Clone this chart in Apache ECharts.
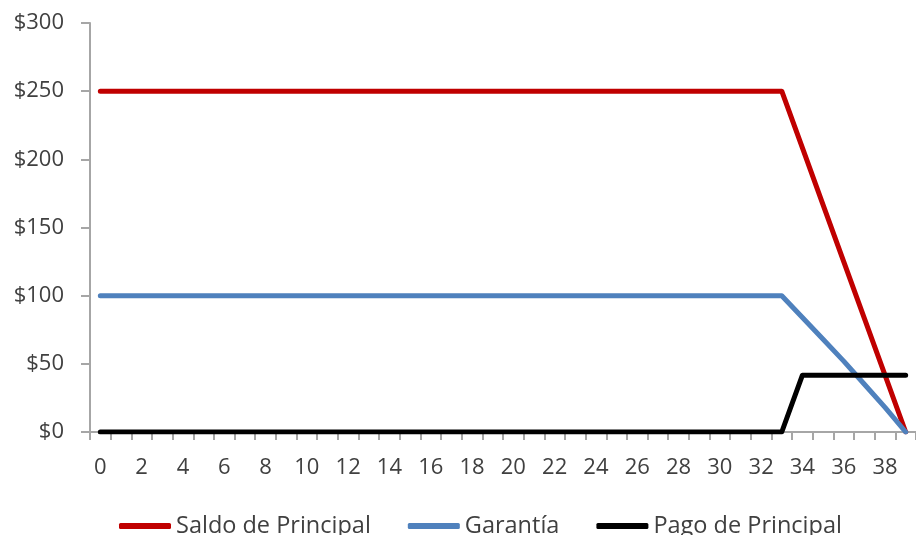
<!DOCTYPE html>
<html>
<head>
<meta charset="utf-8">
<script src="https://cdn.jsdelivr.net/npm/echarts@6/dist/echarts.min.js"></script>
<style>
html,body{margin:0;padding:0;background:#fff;}
#chart{width:916px;height:535px;}
</style>
</head>
<body>
<div id="chart"></div>
<script>
var categories = [];
for (var i = 0; i <= 39; i++) categories.push(String(i));

var saldoPrincipal = [250,250,250,250,250,250,250,250,250,250,250,250,250,250,250,250,250,250,250,250,
                      250,250,250,250,250,250,250,250,250,250,250,250,250,250,208.33,166.67,125,83.33,41.67,0];
var garantia = [100,100,100,100,100,100,100,100,100,100,100,100,100,100,100,100,100,100,100,100,
                100,100,100,100,100,100,100,100,100,100,100,100,100,100,84,68,52,35,18,0];
var pagoPrincipal = [0,0,0,0,0,0,0,0,0,0,0,0,0,0,0,0,0,0,0,0,
                     0,0,0,0,0,0,0,0,0,0,0,0,0,0,41.67,41.67,41.67,41.67,41.67,41.67];

var seriesNames = ['Saldo de Principal', 'Garantía', 'Pago de Principal'];
var seriesColors = ['#C00000', '#4F81BD', '#000000'];

var chart = echarts.init(document.getElementById('chart'));
var font = 'Open Sans';
function mk(name, data, color) {
  return {
    name: name, type: 'line', data: data, symbol: 'none', smooth: false,
    lineStyle: { color: color, width: 5, cap: 'round', join: 'round' },
    itemStyle: { color: color },
    animation: false
  };
}
chart.setOption({
  animation: false,
  grid: { left: 90, top: 23, right: -2, bottom: 103, containLabel: false },
  legend: {
    data: seriesNames,
    left: 114, top: 509,
    icon: 'roundRect',
    itemWidth: 52, itemHeight: 6, itemGap: 37,
    textStyle: { fontFamily: font, fontSize: 23.5, color: '#404040' }
  },
  xAxis: {
    type: 'category', data: categories, boundaryGap: true,
    axisLine: { lineStyle: { color: '#A6A6A6', width: 2 } },
    axisTick: { show: true, interval: 0, length: 8, lineStyle: { color: '#A6A6A6', width: 2 } },
    axisLabel: { interval: 1, margin: 25, fontFamily: font, fontSize: 22, color: '#404040' },
    splitLine: { show: false }
  },
  yAxis: {
    type: 'value', min: 0, max: 300, interval: 50,
    axisLine: { show: true, lineStyle: { color: '#A6A6A6', width: 2 } },
    axisTick: { show: true, length: 9, lineStyle: { color: '#A6A6A6', width: 2 } },
    axisLabel: { margin: 26, fontFamily: font, fontSize: 22, color: '#404040',
      formatter: function (v) { return '$' + v; } },
    splitLine: { show: false }
  },
  series: [
    mk(seriesNames[0], saldoPrincipal, seriesColors[0]),
    mk(seriesNames[1], garantia, seriesColors[1]),
    mk(seriesNames[2], pagoPrincipal, seriesColors[2])
  ]
});
</script>
</body>
</html>
